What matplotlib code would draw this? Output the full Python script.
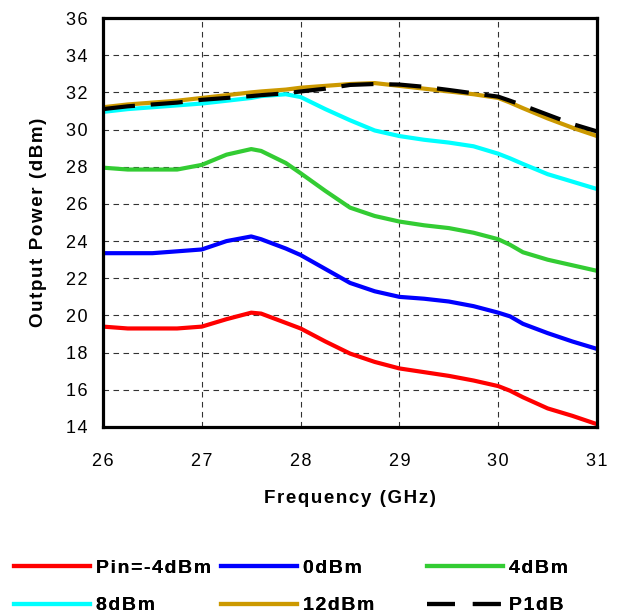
import numpy as np
import matplotlib.pyplot as plt
from matplotlib.lines import Line2D

plt.rcParams['font.family'] = ['Liberation Sans', 'DejaVu Sans']

## --Data
freq = [26.0, 26.25, 26.5, 26.75, 27.0, 27.25, 27.5, 27.6, 27.85, 28.0, 28.25, 28.5,
        28.75, 29.0, 29.25, 29.5, 29.75, 30.0, 30.12, 30.25, 30.5, 30.75, 31.0]

pin_m4 = [19.4, 19.3, 19.3, 19.3, 19.4, 19.8, 20.15, 20.1, 19.6, 19.3, 18.6, 17.95,
          17.5, 17.15, 16.95, 16.75, 16.5, 16.2, 15.95, 15.6, 15.0, 14.6, 14.15]
pin_0 = [23.35, 23.35, 23.35, 23.45, 23.55, 24.0, 24.25, 24.1, 23.6, 23.25, 22.5, 21.75,
         21.3, 21.0, 20.9, 20.75, 20.5, 20.15, 19.95, 19.55, 19.05, 18.6, 18.2]
pin_4 = [27.95, 27.85, 27.85, 27.85, 28.1, 28.65, 28.95, 28.85, 28.2, 27.65, 26.7, 25.8,
         25.35, 25.05, 24.85, 24.7, 24.45, 24.1, 23.8, 23.4, 23.0, 22.7, 22.4]
pin_8 = [30.95, 31.1, 31.2, 31.3, 31.4, 31.55, 31.7, 31.8, 31.9, 31.75, 31.1, 30.5,
         29.95, 29.65, 29.45, 29.3, 29.1, 28.7, 28.45, 28.15, 27.6, 27.2, 26.8]
pin_12 = [31.2, 31.35, 31.45, 31.55, 31.7, 31.85, 32.0, 32.05, 32.15, 32.25, 32.35, 32.45,
          32.5, 32.35, 32.2, 32.05, 31.9, 31.7, 31.45, 31.15, 30.6, 30.1, 29.65]
p1db = [31.1, 31.25, 31.35, 31.45, 31.6, 31.7, 31.8, 31.85, 31.95, 32.05, 32.2, 32.4,
        32.45, 32.42, 32.3, 32.13, 31.95, 31.77, 31.55, 31.3, 30.8, 30.3, 29.9]

xticks = [26, 27, 28, 29, 30, 31]
yticks = [14, 16, 18, 20, 22, 24, 26, 28, 30, 32, 34, 36]

series = [
    ('Pin=-4dBm', pin_m4, '#ff0000', '-'),
    ('0dBm', pin_0, '#0000ff', '-'),
    ('4dBm', pin_4, '#33cc33', '-'),
    ('8dBm', pin_8, '#00ffff', '-'),
    ('12dBm', pin_12, '#cc9900', '-'),
    ('P1dB', p1db, '#000000', (0, (7.7, 3.8))),
]


def spaced(s):
    # excel-like letter spacing
    return '\u200a'.join(str(s))


fig = plt.figure(figsize=(6.18, 6.15), dpi=100)
ax = fig.add_axes([0.1667, 0.3057, 0.7994, 0.665])

for label, vals, col, ls in series:
    ax.plot(freq, vals, color=col, linestyle=ls, linewidth=3, label=label)

ax.set_xlim(26, 31)
ax.set_ylim(14, 36)
ax.set_xticks(xticks)
ax.set_xticklabels([spaced(t) for t in xticks])
ax.set_yticks(yticks)
ax.set_yticklabels([spaced(t) for t in yticks])
ax.grid(True, color='black', linestyle=(0, (5, 4)), linewidth=0.8, alpha=0.8)
ax.tick_params(length=0, labelsize=13, pad=19)
ax.tick_params(axis='y', pad=11)
for s in ax.spines.values():
    s.set_linewidth(2.3)

ax.set_xlabel(spaced('Frequency (GHz)'), fontsize=13.5, fontweight='bold', labelpad=14)
ax.set_ylabel(spaced('Output Power (dBm)'), fontsize=13.5, fontweight='bold', labelpad=14)

# legend: three columns placed like the excel one
leg_dash = (0, (6.7, 4.3))
col_x = [14, 221, 427]
for i, x0 in enumerate(col_x):
    items = [series[i], series[i + 3]]
    handles = [Line2D([], [], color=c, linewidth=3,
                      linestyle=(leg_dash if lab == 'P1dB' else ls))
               for lab, _, c, ls in items]
    leg = fig.legend(handles, [spaced(lab) for lab, _, _, _ in items],
                     loc='center left', bbox_to_anchor=(x0 / 618, 0.0455),
                     frameon=False, borderpad=0, borderaxespad=0,
                     handlelength=3.9, handletextpad=0.3, labelspacing=1.0,
                     prop={'weight': 'bold', 'size': 14})
    fig.add_artist(leg)

fig.savefig('out.png', dpi=100)
